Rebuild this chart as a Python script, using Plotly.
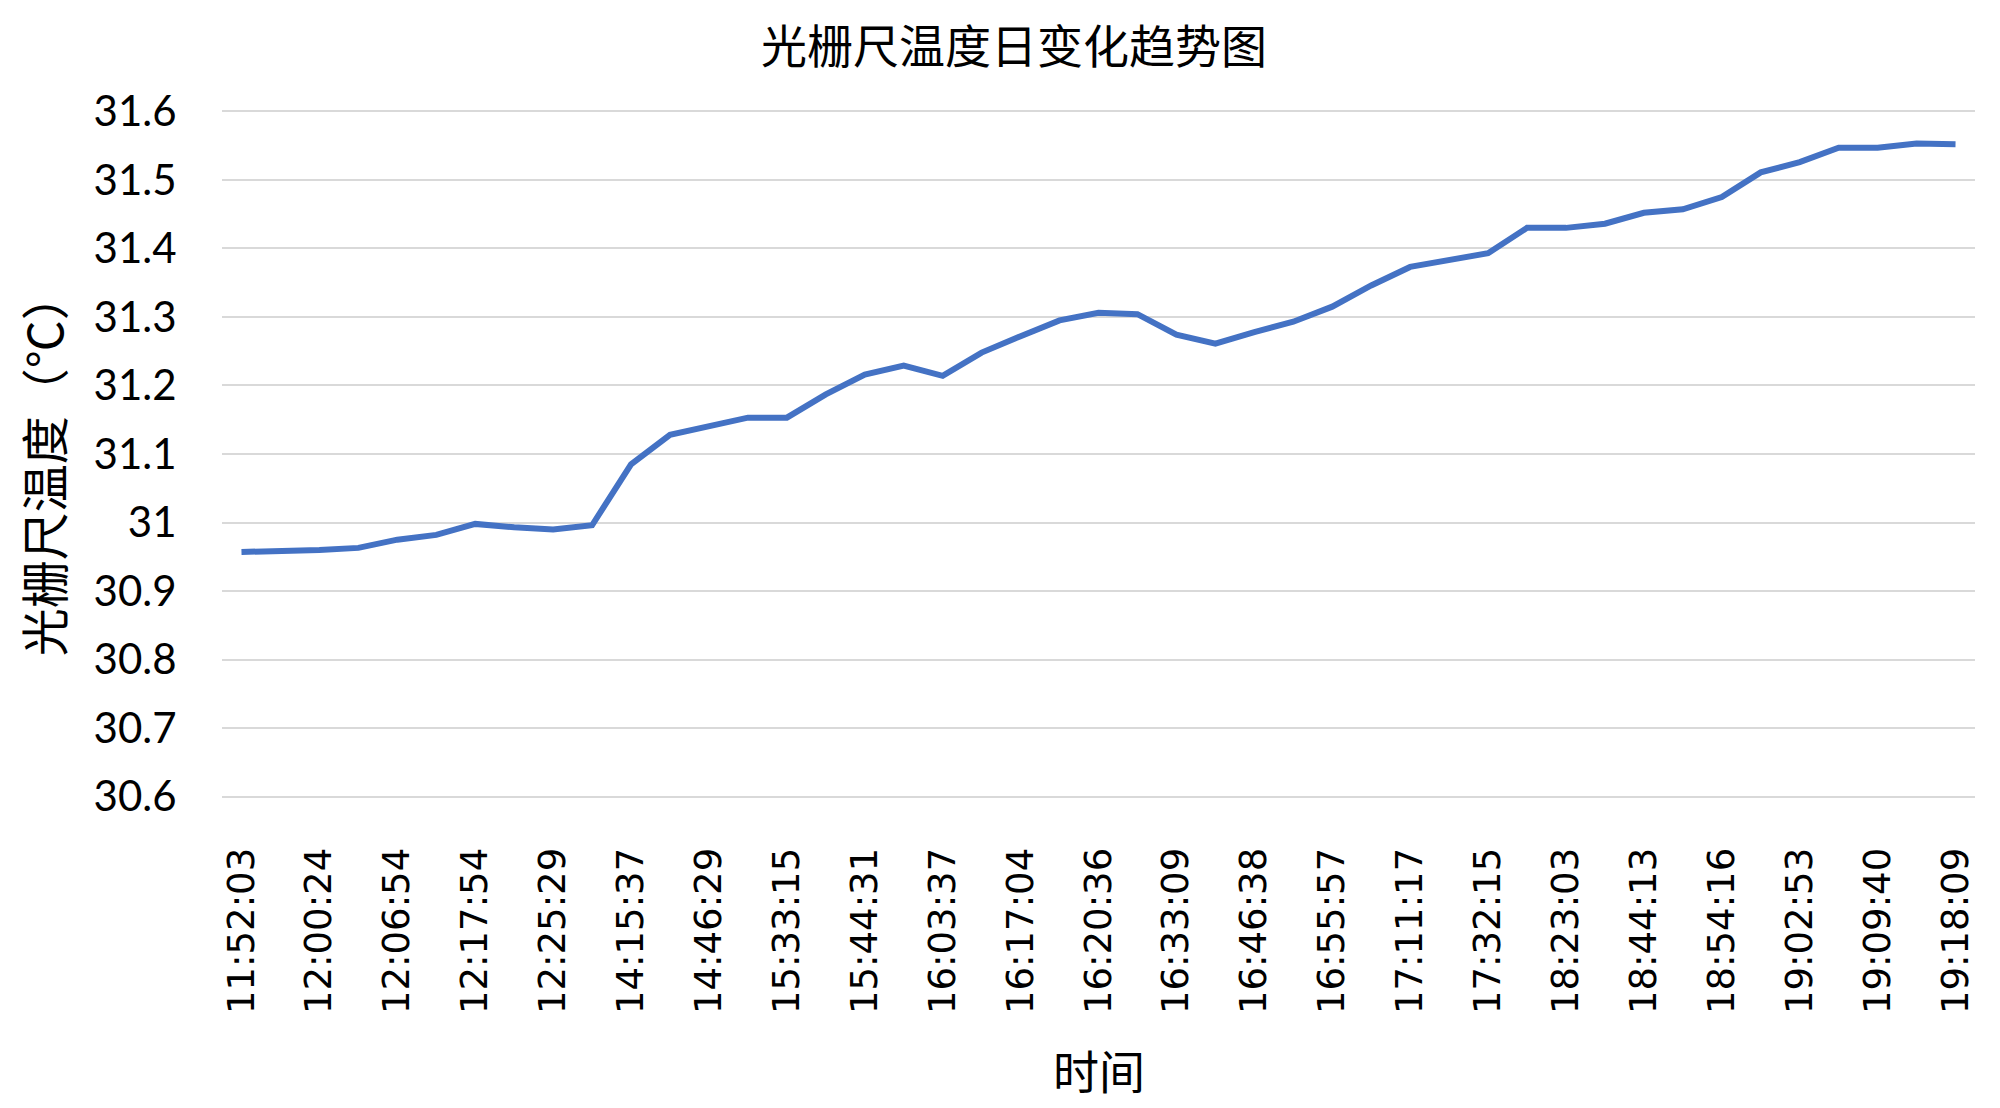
import plotly.graph_objects as go

# 45 samples; only every second timestamp is printed on the axis
TIME_LABELS = [
    "11:52:03", "12:00:24", "12:06:54", "12:17:54", "12:25:29", "14:15:37",
    "14:46:29", "15:33:15", "15:44:31", "16:03:37", "16:17:04", "16:20:36",
    "16:33:09", "16:46:38", "16:55:57", "17:11:17", "17:32:15", "18:23:03",
    "18:44:13", "18:54:16", "19:02:53", "19:09:40", "19:18:09",
]

TEMPS = [
    30.957, 30.958, 30.960, 30.963, 30.975, 30.982, 30.998, 30.993, 30.990, 30.996,
    31.085, 31.128, 31.140, 31.153, 31.153, 31.187, 31.216, 31.229, 31.214, 31.248,
    31.272, 31.295, 31.306, 31.304, 31.274, 31.261, 31.278, 31.293, 31.315, 31.346,
    31.373, 31.384, 31.393, 31.430, 31.430, 31.436, 31.452, 31.457, 31.475, 31.511,
    31.526, 31.547, 31.547, 31.553, 31.552,
]

Y_TICKS = [30.6, 30.7, 30.8, 30.9, 31.0, 31.1, 31.2, 31.3, 31.4, 31.5, 31.6]
Y_TICK_TEXT = ["30.6", "30.7", "30.8", "30.9", "31", "31.1", "31.2", "31.3", "31.4", "31.5", "31.6"]

CJK = "Noto Sans CJK SC"
idx = list(range(len(TEMPS)))

fig = go.Figure()
fig.add_trace(go.Scatter(
    x=idx, y=TEMPS,
    mode="lines",
    line=dict(color="#4472C4", width=6),
    showlegend=False,
))

fig.update_xaxes(
    range=[-0.5, len(TEMPS) - 0.5],
    tickmode="array",
    tickvals=idx[::2],
    ticktext=TIME_LABELS,
    tickangle=-90,
    tickfont=dict(family="DejaVu Sans", size=37, color="#000000"),
    ticks="outside", ticklen=34, tickcolor="rgba(0,0,0,0)",
    showgrid=False, zeroline=False, showline=False,
)
fig.update_yaxes(
    range=[30.598, 31.602],
    tickmode="array",
    tickvals=Y_TICKS,
    ticktext=Y_TICK_TEXT,
    tickfont=dict(family="Lato", size=42, color="#000000"),
    ticks="outside", ticklen=36, tickcolor="rgba(0,0,0,0)",
    showgrid=True, gridcolor="#D9D9D9", gridwidth=2,
    zeroline=False, showline=False,
)

fig.add_annotation(text="光栅尺温度日变化趋势图", xref="paper", yref="paper",
                   x=0.452, y=1.098, xanchor="center", yanchor="middle", showarrow=False,
                   font=dict(family=CJK, size=46, color="#000000"))
fig.add_annotation(text="时间", xref="paper", yref="paper",
                   x=0.5, y=-0.394, xanchor="center", yanchor="middle", showarrow=False,
                   font=dict(family=CJK, size=46, color="#000000"))
fig.add_annotation(text="光栅尺温度（℃）", xref="paper", yref="paper",
                   x=-0.1027, y=0.485, xanchor="center", yanchor="middle",
                   showarrow=False, textangle=-90,
                   font=dict(family=CJK, size=48, color="#000000"))

# the page body adds an 8px margin, so the figure is 8px smaller on each side
fig.update_layout(
    width=1992, height=1100,
    margin=dict(l=214, r=25, t=102, b=310),
    paper_bgcolor="#FFFFFF", plot_bgcolor="#FFFFFF",
)

fig.write_html("out.html")
